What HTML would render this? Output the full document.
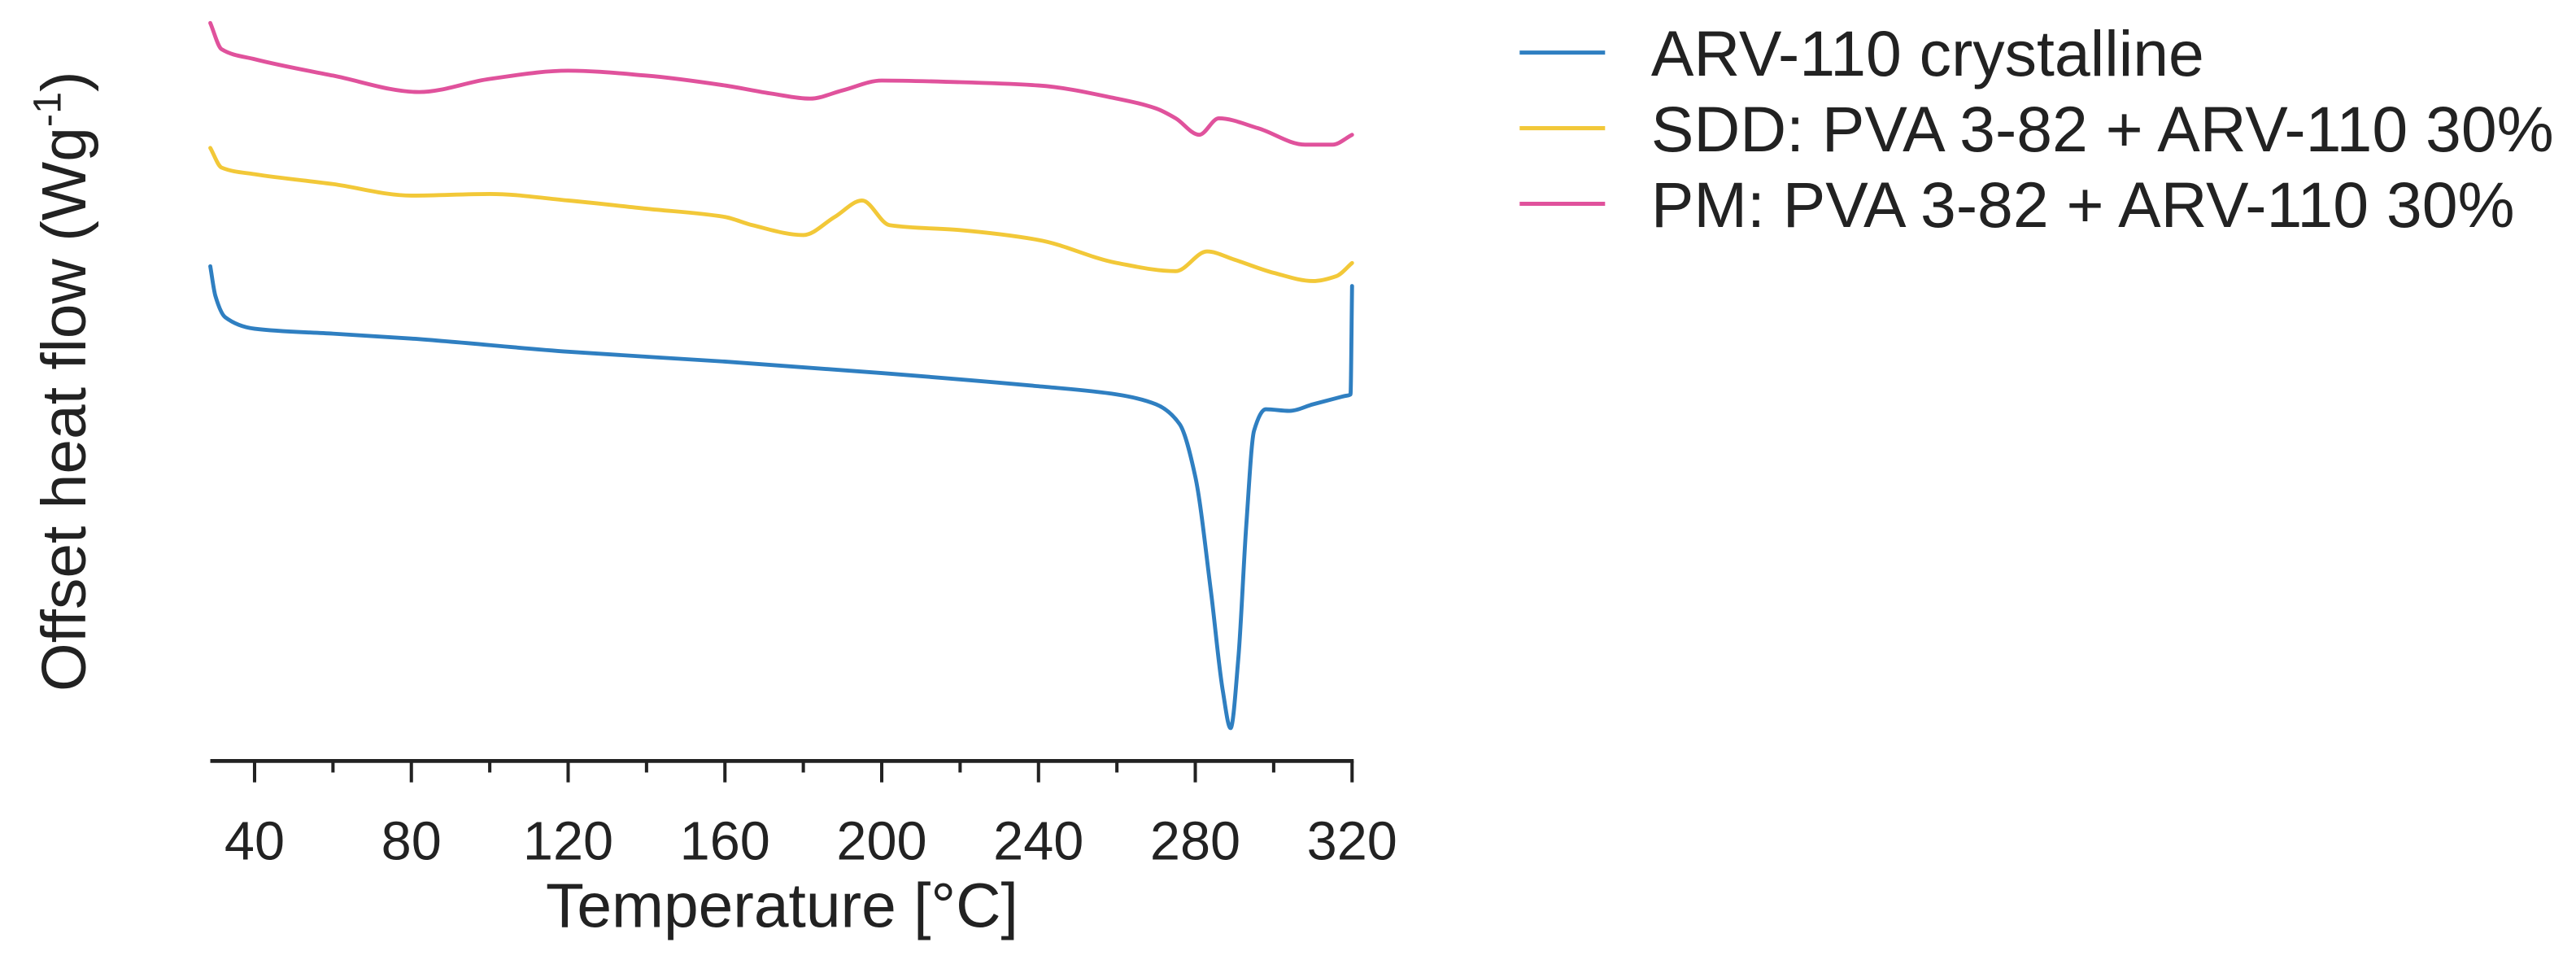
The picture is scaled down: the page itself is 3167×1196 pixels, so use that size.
<!DOCTYPE html>
<html><head><meta charset="utf-8"><style>
html,body{margin:0;padding:0;background:#fff}
svg{display:block}
text{font-family:"Liberation Sans",Arial,sans-serif;fill:#222}
</style></head><body>
<svg id="chart" width="3167" height="1196" viewBox="0 0 1568 592" preserveAspectRatio="none" xmlns="http://www.w3.org/2000/svg">
<g id="plot"></g>
<g id="axis"></g>
<text x="476" y="564" font-size="38" text-anchor="middle">Temperature [°C]</text>
<text transform="translate(52,232) rotate(-90)" font-size="38" text-anchor="middle">Offset heat flow (Wg<tspan font-size="24" dy="-15">-1</tspan><tspan dy="15">)</tspan></text>
<g>
 <g><line x1="925" y1="32" x2="977" y2="32" stroke="#2f7fc1" stroke-width="2.5"/><text x="1005" y="46" font-size="39">ARV-110 crystalline</text></g>
 <g><line x1="925" y1="78" x2="977" y2="78" stroke="#f2c838" stroke-width="2.5"/><text x="1005" y="92" font-size="39">SDD: PVA 3-82 + ARV-110 30%</text></g>
 <g><line x1="925" y1="124" x2="977" y2="124" stroke="#e0529c" stroke-width="2.5"/><text x="1005" y="138" font-size="39">PM: PVA 3-82 + ARV-110 30%</text></g>
</g>
</svg>
<script>
// Data (temperature °C, offset heat flow in arbitrary units)
const pmTemp = [28.7,31.6,40,60,82,100,120,140,160,172,181.7,190,200,220,240,260,270,275,281,286,296,308,315,320];
const pmVal  = [449,433,427,417,407,415,420,417,411,406,403,408,414,413,411,403,397,391,381,391,385,375,375,381];
const sddTemp = [28.7,31.6,40,60,80,100,120,140,160,167,180,188,195,202,220,240,260,275,283,290,300,310,316,320];
const sddVal  = [373,361,357,351,344,345,341,336,331,326,320,331,341,326,323,317,303,298,310,305,297,292,295,303];
const crysTemp = [28.7,30,32.5,40,60,80,120,160,200,240,260,270,276,280,284,287,289,291,293,295,298,304,310,318,319.6,320];
const crysVal  = [301,283,270,263,260,257,249,243,236,228,223,217,205,173,103,43,20,63,143,201,214,213,217,222,223,289];
const xTicks = [40,80,120,160,200,240,280,320];
const xMinor = [60,100,140,180,220,260,300];

const X0=28.7,X1=320,PX0=128,PX1=823, AXY=463;
function x(t){return PX0+(t-X0)/(X1-X0)*(PX1-PX0);}
function y(v){return 463-v;}
const NS="http://www.w3.org/2000/svg";
const plot=document.getElementById('plot'), axis=document.getElementById('axis');
// monotone-x cubic (no overshoot)
function monotone(pts){
  const n=pts.length, s=[], m=new Array(n);
  for(let i=0;i<n-1;i++) s.push((pts[i+1][1]-pts[i][1])/(pts[i+1][0]-pts[i][0]));
  m[0]=s[0]; m[n-1]=s[n-2];
  for(let i=1;i<n-1;i++){
    if(s[i-1]*s[i]<=0) m[i]=0;
    else{
      const h0=pts[i][0]-pts[i-1][0], h1=pts[i+1][0]-pts[i][0];
      const w1=2*h1+h0, w2=h1+2*h0;
      m[i]=(w1+w2)/(w1/s[i-1]+w2/s[i]);
    }
  }
  let d='M'+pts[0][0].toFixed(2)+','+pts[0][1].toFixed(2);
  for(let i=0;i<n-1;i++){
    const h=(pts[i+1][0]-pts[i][0])/3;
    d+=' C'+(pts[i][0]+h).toFixed(2)+','+(pts[i][1]+m[i]*h).toFixed(2)+' '+(pts[i+1][0]-h).toFixed(2)+','+(pts[i+1][1]-m[i+1]*h).toFixed(2)+' '+pts[i+1][0].toFixed(2)+','+pts[i+1][1].toFixed(2);
  }
  return d;
}
function line(ts,vs,color,name){
  const p=document.createElementNS(NS,'path');
  p.setAttribute('d',monotone(ts.map((t,i)=>[x(t),y(vs[i])])));
  p.setAttribute('fill','none');p.setAttribute('stroke',color);p.setAttribute('stroke-width','2.4');
  p.setAttribute('stroke-linejoin','round');p.setAttribute('stroke-linecap','round');
  
  
  plot.appendChild(p);
}
line(crysTemp,crysVal,'#2f7fc1','series-crystalline');
line(sddTemp,sddVal,'#f2c838','series-sdd');
line(pmTemp,pmVal,'#e0529c','series-pm');

const base=document.createElementNS(NS,'line');
base.setAttribute('x1',PX0);base.setAttribute('x2',PX1+1);base.setAttribute('y1',AXY);base.setAttribute('y2',AXY);
base.setAttribute('stroke','#222');base.setAttribute('stroke-width','2.4');


axis.appendChild(base);
xTicks.forEach(t=>{
  const l=document.createElementNS(NS,'line');
  l.setAttribute('x1',x(t));l.setAttribute('x2',x(t));l.setAttribute('y1',AXY);l.setAttribute('y2',AXY+13);
  l.setAttribute('stroke','#222');l.setAttribute('stroke-width','2');
  
  
  axis.appendChild(l);
  const tx=document.createElementNS(NS,'text');
  tx.setAttribute('x',x(t));tx.setAttribute('y',AXY+60);tx.setAttribute('font-size','33');tx.setAttribute('text-anchor','middle');
  tx.textContent=t;
  
  
  axis.appendChild(tx);
});
xMinor.forEach(t=>{
  const l=document.createElementNS(NS,'line');
  l.setAttribute('x1',x(t));l.setAttribute('x2',x(t));l.setAttribute('y1',AXY);l.setAttribute('y2',AXY+7);
  l.setAttribute('stroke','#222');l.setAttribute('stroke-width','2');
  
  
  axis.appendChild(l);
});
</script>
</body></html>
